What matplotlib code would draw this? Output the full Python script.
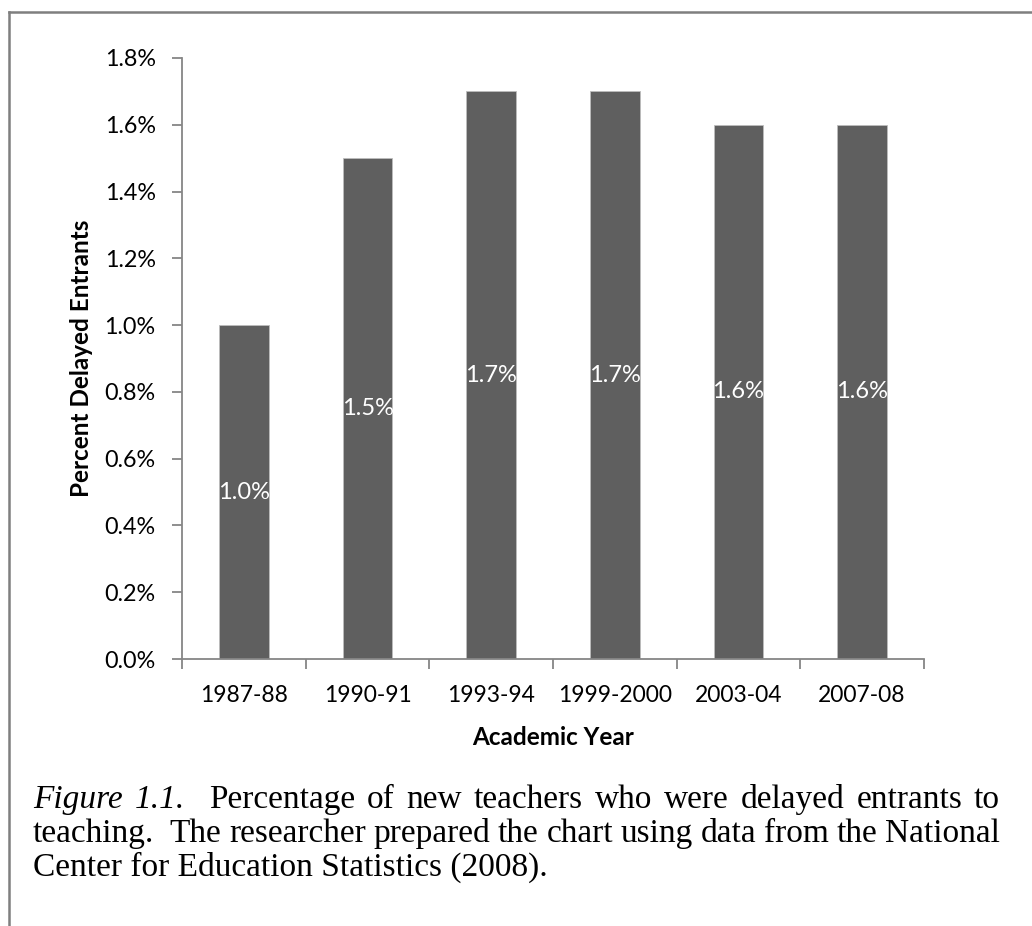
import matplotlib
matplotlib.use('Agg')
import matplotlib.pyplot as plt
from matplotlib.lines import Line2D

# dados: percentual de ingressantes tardios por ano letivo
anos = ['1987-88', '1990-91', '1993-94', '1999-2000', '2003-04', '2007-08']
percentuais = [1.0, 1.5, 1.7, 1.7, 1.6, 1.6]
ticks_y = [0.0, 0.2, 0.4, 0.6, 0.8, 1.0, 1.2, 1.4, 1.6, 1.8]

fonte = 'Lato'
cinza_eixo = '#868686'
W, H = 1032, 926

fig = plt.figure(figsize=(W / 100, H / 100), dpi=100)
ax = fig.add_axes([0.1764, 0.2883, 0.7189, 0.6491])

x = list(range(len(anos)))
barras = ax.bar(x, percentuais, width=0.4, color='#5f5f5f',
                edgecolor='#bdbdbd', linewidth=0.6)

# rotulo branco no meio de cada barra
for xi, v in zip(x, percentuais):
    ax.text(xi, v / 2, f'{v:.1f}%', ha='center', va='center',
            color='white', fontsize=17, family=fonte)

ax.set_xlim(-0.5, len(anos) - 0.5)
ax.set_ylim(0, 1.8)
ax.set_yticks(ticks_y)
ax.set_yticklabels([f'{t:.1f}%' for t in ticks_y], family=fonte, fontsize=16.8)

# ticks do eixo x nas divisas entre categorias
ax.set_xticks([i - 0.5 for i in range(len(anos) + 1)])
ax.set_xticklabels([])
ax.set_xticks(x, minor=True)
ax.set_xticklabels(anos, minor=True, family=fonte, fontsize=16.5)
ax.tick_params(axis='x', which='minor', length=0, pad=19)
ax.tick_params(axis='x', which='major', length=7, width=1.3, color=cinza_eixo, direction='out')
ax.tick_params(axis='y', length=7, width=1.3, color=cinza_eixo, pad=12)

for lado in ['top', 'right']:
    ax.spines[lado].set_visible(False)
for lado in ['left', 'bottom']:
    ax.spines[lado].set_color(cinza_eixo)
    ax.spines[lado].set_linewidth(1.3)

ax.set_xlabel('Academic Year', family=fonte, fontsize=17.5, fontweight='bold', labelpad=14)
ax.set_ylabel('Percent Delayed Entrants', family=fonte, fontsize=17.5, fontweight='bold', labelpad=8)

# legenda da figura em texto justificado
serif = 'Liberation Serif'
tam = 24
x_ini, x_fim = 33, 1000
renderer = fig.canvas.get_renderer()


def linha_justificada(palavras, y):
    # palavras: lista de (texto, estilo, espacos antes)
    textos = [fig.text(0, 1 - y / H, p, family=serif, style=s, fontsize=tam, va='baseline')
              for p, s, _ in palavras]
    larguras = [t.get_window_extent(renderer).width for t in textos]
    pesos = sum(e for _, _, e in palavras[1:])
    gap = (x_fim - x_ini - sum(larguras)) / pesos
    pos = x_ini
    for t, w, (_, _, e) in zip(textos, larguras, palavras):
        pos += e * gap if t is not textos[0] else 0
        t.set_x(pos / W)
        pos += w


linha1 = [('Figure', 'italic', 0), ('1.1.', 'italic', 1)]
linha1 += [(p, 'normal', 2 if i == 0 else 1) for i, p in
           enumerate('Percentage of new teachers who were delayed entrants to'.split())]
linha2 = [(p, 'normal', 2 if i == 1 else 1) for i, p in
          enumerate('teaching. The researcher prepared the chart using data from the National'.split())]
linha_justificada(linha1, 808)
linha_justificada(linha2, 842)
fig.text(x_ini / W, 1 - 876 / H, 'Center for Education Statistics (2008).',
         family=serif, fontsize=tam, va='baseline')

# moldura superior e esquerda
fig.add_artist(Line2D([8.5 / W, 1.0], [1 - 11.5 / H, 1 - 11.5 / H],
                      transform=fig.transFigure, color='#7f7f7f', linewidth=1.8))
fig.add_artist(Line2D([8.5 / W, 8.5 / W], [0, 1 - 11.5 / H],
                      transform=fig.transFigure, color='#7f7f7f', linewidth=1.8))

fig.savefig('out.png', dpi=100)
